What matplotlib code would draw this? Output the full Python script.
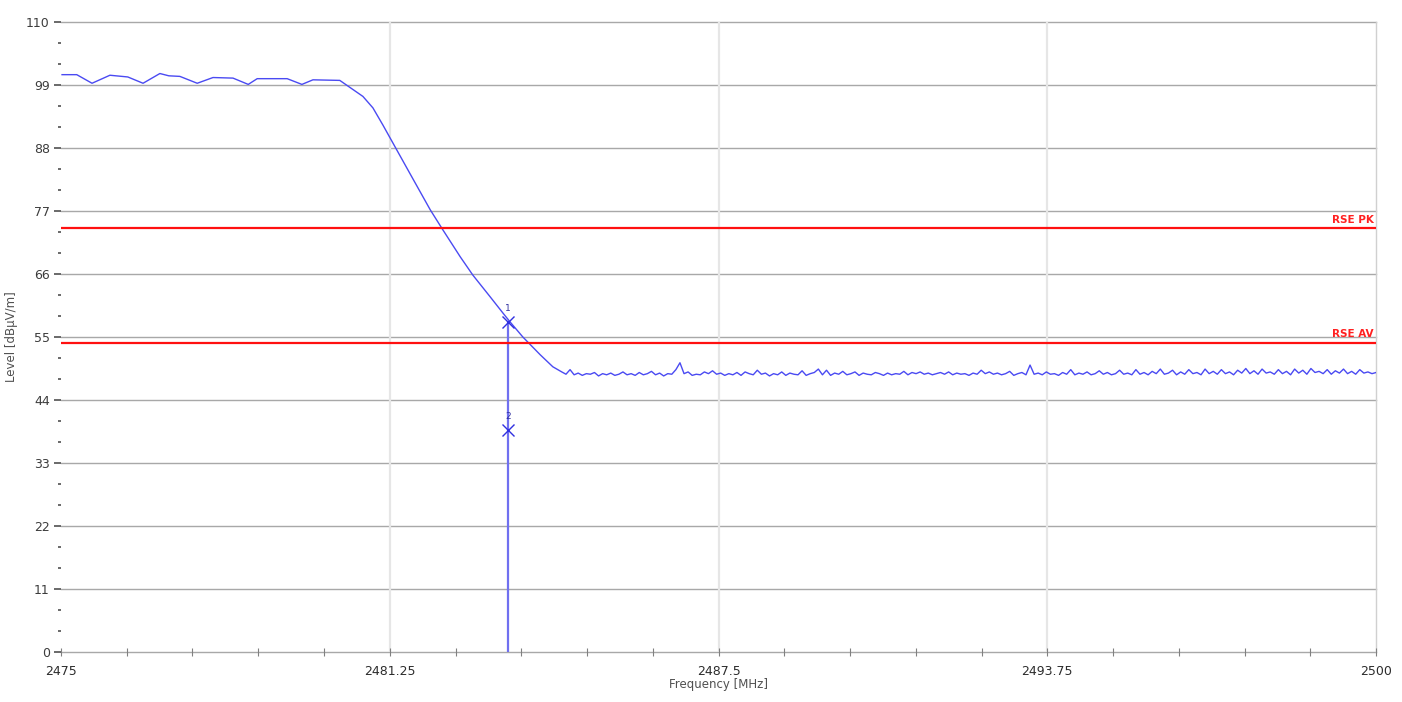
import numpy as np
import matplotlib.pyplot as plt
from matplotlib.ticker import MultipleLocator

# Spectrum trace: passband and roll-off
edge_freq = [2475.02, 2475.30, 2475.59, 2475.93, 2476.27, 2476.56, 2476.88, 2477.05,
             2477.26, 2477.59, 2477.89, 2478.27, 2478.56, 2478.73, 2479.30, 2479.58,
             2479.79, 2480.30, 2480.74, 2480.93, 2481.12, 2481.35, 2481.63, 2482.02,
             2482.26, 2482.59, 2482.83, 2483.16, 2483.40, 2483.54, 2483.78, 2484.11,
             2484.35, 2484.52]
edge_level = [100.8, 100.8, 99.3, 100.7, 100.4, 99.3, 101.0, 100.6,
              100.5, 99.3, 100.3, 100.2, 99.1, 100.1, 100.1, 99.1,
              99.9, 99.8, 97.0, 95.0, 92.0, 88.2, 83.6, 77.2,
              73.7, 69.0, 65.8, 62.0, 59.2, 57.6, 55.0, 51.9,
              49.8, 48.9]

# Noise floor from 2484.6 MHz up to 2500 MHz
floor_start, floor_stop = 2484.6, 2500.0
floor_level = [
    48.5, 49.3, 48.4, 48.7, 48.3, 48.6, 48.5, 48.8, 48.2, 48.6,
    48.4, 48.7, 48.3, 48.5, 48.9, 48.4, 48.6, 48.3, 48.8, 48.4,
    48.6, 49.0, 48.4, 48.7, 48.2, 48.6, 48.5, 49.3, 50.5, 48.6,
    48.9, 48.3, 48.5, 48.4, 48.9, 48.6, 49.1, 48.5, 48.7, 48.3,
    48.6, 48.4, 48.8, 48.3, 48.9, 48.6, 48.4, 49.2, 48.5, 48.7,
    48.2, 48.6, 48.4, 48.9, 48.3, 48.7, 48.5, 48.4, 49.1, 48.3,
    48.6, 48.8, 49.4, 48.4, 49.2, 48.3, 48.7, 48.5, 49.0, 48.4,
    48.6, 48.9, 48.3, 48.7, 48.5, 48.4, 48.8, 48.6, 48.3, 48.7,
    48.4, 48.6, 48.5, 49.0, 48.4, 48.8, 48.6, 48.9, 48.5, 48.7,
    48.4, 48.6, 48.8, 48.5, 48.9, 48.4, 48.7, 48.5, 48.6, 48.3,
    48.7, 48.5, 49.2, 48.6, 48.9, 48.5, 48.7, 48.4, 48.6, 49.0,
    48.3, 48.6, 48.8, 48.4, 50.1, 48.5, 48.7, 48.4, 48.9, 48.5,
    48.6, 48.3, 48.8, 48.5, 49.3, 48.4, 48.7, 48.5, 48.9, 48.4,
    48.6, 49.1, 48.5, 48.8, 48.4, 48.6, 49.2, 48.5, 48.7, 48.4,
    49.3, 48.5, 48.8, 48.4, 49.0, 48.6, 49.4, 48.5, 48.7, 49.2,
    48.4, 48.9, 48.5, 49.3, 48.6, 48.8, 48.4, 49.4, 48.6, 49.0,
    48.5, 49.3, 48.6, 48.9, 48.4, 49.2, 48.7, 49.5, 48.6, 49.1,
    48.5, 49.4, 48.7, 48.9, 48.5, 49.3, 48.6, 49.0, 48.4, 49.4,
    48.7, 49.2, 48.5, 49.5, 48.8, 49.0, 48.6, 49.3, 48.5, 49.1,
    48.7, 49.4, 48.6, 49.0, 48.5, 49.3, 48.7, 48.9, 48.6, 48.8,
]

# Limit lines
limits = {"RSE PK": 74.0, "RSE AV": 54.0}

# Markers
marker_freq = 2483.5
marker_levels = [57.6, 38.7]
marker_labels = ["1", "2"]

x_ticks = [2475, 2481.25, 2487.5, 2493.75, 2500]
x_tick_labels = ["2475", "2481.25", "2487.5", "2493.75", "2500"]
y_ticks = [0, 11, 22, 33, 44, 55, 66, 77, 88, 99, 110]

floor_freq = np.linspace(floor_start, floor_stop, len(floor_level))
freq = np.concatenate([edge_freq, floor_freq])
level = np.concatenate([edge_level, floor_level])

trace_color = "#4a4af2"

fig = plt.figure(figsize=(14.02, 7.02), dpi=100)
ax = fig.add_axes([0.0435, 0.0712, 0.9380, 0.8975])

# grid: grey horizontals, pale verticals
for y in y_ticks:
    ax.axhline(y, color="#a8a8a8", lw=1.0, zorder=1, clip_on=False)
for x in x_ticks[1:-1]:
    ax.axvline(x, color="#e6e6e6", lw=1.6, zorder=1)
ax.axvline(2500, color="#d0d0d0", lw=1.0, zorder=1, clip_on=False)

ax.plot(freq, level, color=trace_color, lw=1.0, zorder=3)

for name, val in limits.items():
    ax.axhline(val, color="#ff1010", lw=1.6, zorder=4)
    ax.text(2499.95, val + 0.6, name, color="#ff2020", fontsize=7.5,
            fontweight="bold", ha="right", va="bottom", zorder=5)

# marker stem and crosses
ax.plot([marker_freq, marker_freq], [0, marker_levels[0]], color="#7070f0",
        lw=1.6, zorder=3)
ax.plot([marker_freq] * 2, marker_levels, "x", color="#3030e0", ms=8,
        mew=1.0, zorder=5)
for lab, val in zip(marker_labels, marker_levels):
    ax.text(marker_freq, val + 1.6, lab, color="#3030a0", fontsize=6.5,
            ha="center", va="bottom", zorder=5)

ax.set_xlim(2475, 2500)
ax.set_ylim(0, 110)
ax.set_xticks(x_ticks)
ax.set_xticklabels(x_tick_labels)
ax.set_yticks(y_ticks)
ax.xaxis.set_minor_locator(MultipleLocator(1.25))
ax.yaxis.set_minor_locator(MultipleLocator(11 / 3))

for s in ax.spines.values():
    s.set_visible(False)

ax.tick_params(axis="y", which="major", length=5, width=1.2, color="#505050",
               labelsize=9, labelcolor="#3c3c3c", pad=3)
ax.tick_params(axis="y", which="minor", length=2, width=1.2, color="#505050")
ax.tick_params(axis="x", which="both", direction="inout", length=6, width=0.8,
               color="#808080", labelsize=9, labelcolor="#2c2c2c", pad=6)

ax.set_xlabel("Frequency [MHz]", fontsize=8.5, color="#505050", labelpad=0)
ax.set_ylabel("Level [dBµV/m]", fontsize=8.5, color="#505050", labelpad=6)

fig.savefig("out.png", dpi=100, facecolor="white")
